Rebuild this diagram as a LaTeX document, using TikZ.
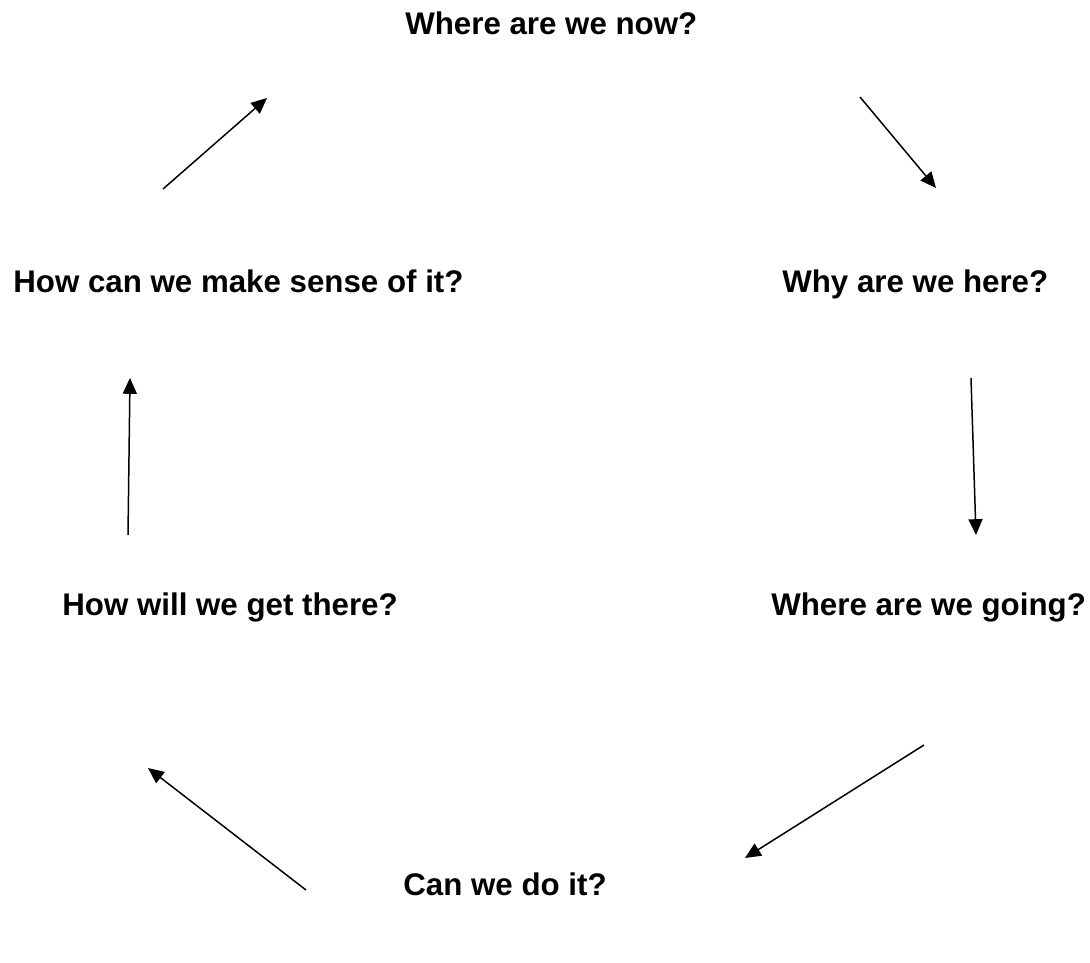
\documentclass[tikz,border=0pt]{standalone}
\usepackage{fontspec}
\setmainfont{Liberation Sans}
\usetikzlibrary{arrows.meta}

\begin{document}
\begin{tikzpicture}[x=0.02cm,y=-0.02cm,
        lbl/.style={inner sep=0pt,anchor=base west,font=\fontsize{17.8}{21}\selectfont\bfseries},
        arr/.style={line width=0.85pt,-{Triangle[length=9pt,width=8pt]}}]
        \useasboundingbox (0,0) rectangle (1090,963);
        % the six questions
        \node[lbl] (now) at (405,35) {Where are we now?};
        \node[lbl] (why) at (782,293) {Why are we here?};
        \node[lbl] (going) at (771,615) {Where are we going?};
        \node[lbl] (can) at (403,895) {Can we do it?};
        \node[lbl] (will) at (62,615) {How will we get there?};
        \node[lbl] (sense) at (13,293) {How can we make sense of it?};
        % arrow ends
        \coordinate (a1) at (860,97);  \coordinate (b1) at (936,188);
        \coordinate (a2) at (971,378); \coordinate (b2) at (976,535);
        \coordinate (a3) at (924,745); \coordinate (b3) at (745,858);
        \coordinate (a4) at (306,890); \coordinate (b4) at (148,768);
        \coordinate (a5) at (128,535); \coordinate (b5) at (130,378);
        \coordinate (a6) at (163,189); \coordinate (b6) at (267,98);
        \foreach \i in {1,...,6}
            \draw[arr] (a\i)--(b\i);
    \end{tikzpicture}
\end{document}
